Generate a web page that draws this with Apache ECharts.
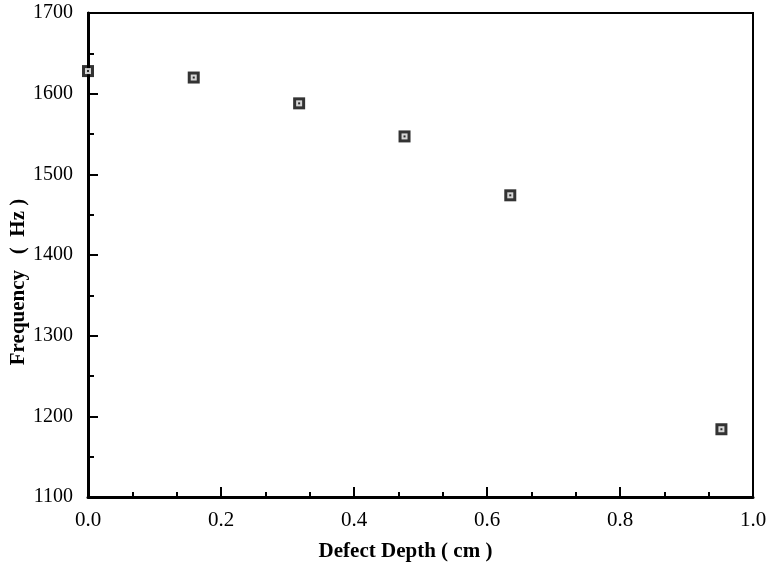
<!DOCTYPE html>
<html><head><meta charset="utf-8">
<script src="https://cdn.jsdelivr.net/npm/echarts@6/dist/echarts.min.js"></script>
<style>html,body{margin:0;padding:0;background:#fff}#c{width:771px;height:569px}</style>
</head><body><div id="c"></div>
<script>
const depths = [0, 0.159, 0.3175, 0.476, 0.635, 0.9525];
const freqs = [1628, 1620, 1588, 1547, 1474, 1184];
const xTitle = 'Defect Depth ( cm )';
const yTitle = 'Frequency   (  Hz )';

const pts = depths.map((d, i) => [d, freqs[i]]);
const font = '"Liberation Serif", "Times New Roman", serif';
const chart = echarts.init(document.getElementById('c'), null, {renderer: 'canvas'});
chart.setOption({
  animation: false,
  backgroundColor: '#fff',
  grid: {left: 88, right: 18, top: 13, bottom: 72, show: true, borderColor: '#000', borderWidth: 2,
         containLabel: false, outerBoundsMode: 'none'},
  xAxis: {
    type: 'value', min: 0, max: 1, interval: 0.2,
    axisLine: {show: true, lineStyle: {color: '#000', width: 3}},
    axisTick: {show: true, inside: true, length: 10, lineStyle: {color: '#000', width: 2}},
    minorTick: {show: true, splitNumber: 3, length: 5, lineStyle: {color: '#000', width: 2}},
    splitLine: {show: false},
    axisLabel: {fontFamily: font, fontSize: 21, color: '#000', margin: 13, formatter: v => v.toFixed(1)},
    name: xTitle, nameLocation: 'middle', nameGap: 44, nameMoveOverlap: false,
    nameTextStyle: {fontFamily: font, fontSize: 21, fontWeight: 'bold', color: '#000', padding: [0, 30, 0, 0]}
  },
  yAxis: {
    type: 'value', min: 1100, max: 1700, interval: 100,
    axisLine: {show: true, lineStyle: {color: '#000', width: 3}},
    axisTick: {show: true, inside: true, length: 10, lineStyle: {color: '#000', width: 2}},
    minorTick: {show: true, splitNumber: 2, length: 6, lineStyle: {color: '#000', width: 2}},
    splitLine: {show: false},
    axisLabel: {fontFamily: font, fontSize: 20, color: '#000', margin: 15, formatter: v => String(v)},
    name: yTitle, nameLocation: 'middle', nameGap: 59, nameMoveOverlap: false,
    nameTextStyle: {fontFamily: font, fontSize: 21, fontWeight: 'bold', color: '#000', padding: [0, 54, 0, 0]}
  },
  series: [
    {type: 'scatter', data: pts, symbol: 'rect', symbolSize: 12, itemStyle: {color: '#000'}, z: 3},
    {type: 'scatter', data: pts, symbol: 'rect', symbolSize: 6, itemStyle: {color: '#fff'}, z: 4},
    {type: 'scatter', data: pts, symbol: 'rect', symbolSize: 2, itemStyle: {color: '#000'}, z: 5}
  ]
});
</script></body></html>
